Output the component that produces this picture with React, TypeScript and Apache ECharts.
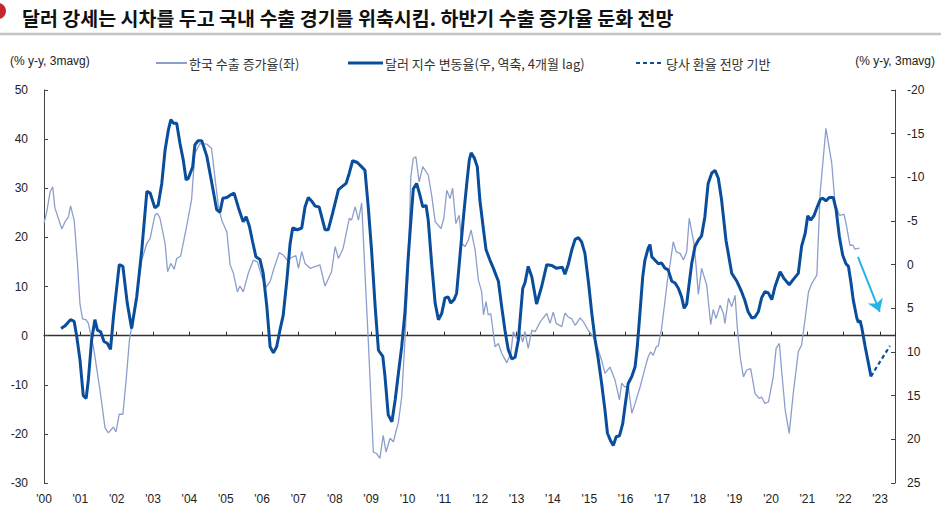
import React, { useEffect, useRef } from "react";
import * as echarts from "echarts";

// Time offsets are in years since January 2000
const YEAR0 = 2000;

// 한국 수출 증가율 (좌, % y-y, 3mavg)
const koreaExports: [number, number][] = [
  [0.0, 22.9], [0.07, 25], [0.17, 29.3], [0.24, 30.3], [0.3, 26], [0.49, 21.7], [0.58, 23.2], [0.67, 24.1],
  [0.73, 26.4], [0.83, 23.5], [0.92, 14.8], [0.99, 6.4], [1.06, 3.4], [1.16, 3.2], [1.22, 2.5], [1.36, -2.3],
  [1.54, -11.1], [1.68, -18.8], [1.77, -19.8], [1.91, -18.6], [1.98, -19.6], [2.07, -16], [2.17, -16], [2.26, -9],
  [2.35, -0.9], [2.55, 7.9], [2.69, 15.4], [2.83, 18.8], [2.92, 19.8], [3.05, 24.5], [3.12, 24.9], [3.19, 23.9],
  [3.33, 18.8], [3.4, 13], [3.49, 14.7], [3.58, 13.5], [3.65, 15.7], [3.76, 16.2], [3.93, 22.5], [4.06, 27.7],
  [4.15, 37.1], [4.29, 39.1], [4.48, 39], [4.61, 38.1], [4.7, 32.3], [4.8, 26.2], [4.89, 23.5], [5.03, 21.1],
  [5.12, 14.4], [5.21, 12.7], [5.32, 8.9], [5.39, 10.1], [5.48, 8.9], [5.62, 12.7], [5.76, 15.4], [5.87, 15],
  [5.99, 12], [6.11, 9.9], [6.22, 11], [6.31, 13.3], [6.47, 16.9], [6.58, 16.4], [6.69, 15.4], [6.84, 16],
  [6.93, 16.3], [7.0, 13.7], [7.09, 17.1], [7.18, 14.7], [7.32, 13.7], [7.59, 14.4], [7.73, 10.1], [7.91, 13],
  [8.01, 18.1], [8.1, 15.7], [8.23, 17.8], [8.4, 23.9], [8.46, 23.5], [8.56, 26.2], [8.65, 23.5], [8.74, 27],
  [8.83, 12.7], [8.92, -0.9], [9.06, -23.7], [9.15, -24], [9.24, -25], [9.33, -20.3], [9.41, -23.7], [9.52, -20.9],
  [9.61, -21.6], [9.75, -17.6], [9.84, -12.5], [9.93, -0.9], [10.02, 14], [10.09, 32.3], [10.16, 36.1], [10.23, 36.4],
  [10.32, 31.3], [10.42, 34.4], [10.57, 32.7], [10.67, 28.3], [10.76, 23.2], [10.92, 21.8], [11.0, 23.9], [11.08, 29.6],
  [11.17, 27.9], [11.24, 30], [11.33, 22.8], [11.42, 24.5], [11.49, 18.8], [11.58, 18.1], [11.67, 19.4], [11.75, 21.5],
  [11.86, 17.4], [11.95, 11.3], [12.04, 8.9], [12.09, 4.2], [12.16, 6.9], [12.22, 4.2], [12.29, 4.5], [12.41, -2.3],
  [12.5, -1.6], [12.59, -3.6], [12.73, -5.5], [12.84, -3.6], [12.91, 0.8], [13.0, -0.6], [13.08, 0.8], [13.17, -1.3],
  [13.23, 0.8], [13.32, -2.6], [13.42, 1.1], [13.51, 0.8], [13.65, 2.8], [13.83, 4.5], [13.92, 2.5], [14.01, 4.8],
  [14.09, 2.5], [14.24, 1.8], [14.33, 4.6], [14.42, 3.8], [14.52, 3.4], [14.61, 2.1], [14.75, 3.6], [14.84, 2.8],
  [14.97, 1.1], [15.11, -0.2], [15.25, -3], [15.34, -5], [15.43, -7.7], [15.57, -6.4], [15.71, -9.1], [15.83, -13.1],
  [15.89, -9.7], [15.98, -10.5], [16.07, -10.1], [16.17, -15.8], [16.26, -13.8], [16.4, -10.4], [16.53, -6.7], [16.62, -4.3],
  [16.69, -3.3], [16.76, -4], [16.84, -2.3], [16.9, -2.1], [16.99, 1.5], [17.08, 6.9], [17.15, 11.3], [17.22, 14.4],
  [17.31, 19.1], [17.39, 17.1], [17.5, 16.7], [17.59, 15.4], [17.68, 17.1], [17.75, 23.9], [17.82, 21.1], [17.88, 18.8],
  [17.94, 14], [18.0, 8.4], [18.09, 13.7], [18.23, 10.3], [18.34, 2.3], [18.41, 5.3], [18.49, 3.5], [18.6, 6.2],
  [18.69, 4.5], [18.73, 2.5], [18.83, 7.6], [18.92, 5.9], [19.01, 8.2], [19.07, 1.8], [19.15, -4.3], [19.24, -8.4],
  [19.33, -7], [19.44, -6.7], [19.56, -11.8], [19.68, -12.8], [19.74, -12.5], [19.83, -13.8], [19.93, -13.5], [20.06, -8.4],
  [20.14, -2.6], [20.23, -1.6], [20.29, -7], [20.39, -15.2], [20.5, -19.9], [20.61, -11.8], [20.75, -3.3], [20.84, -1.9],
  [20.94, 3.5], [21.03, 8.9], [21.12, 10.6], [21.26, 12.3], [21.35, 29], [21.44, 36.4], [21.51, 42.2], [21.58, 39.1],
  [21.67, 35.1], [21.76, 26.9], [21.88, 24.5], [22.01, 24.7], [22.08, 22.2], [22.17, 18.4], [22.25, 18.4], [22.31, 17.6],
  [22.43, 17.8],
];

// 달러 지수 변동율 (우, 역축, 4개월 lag)
const dollarIndex: [number, number][] = [
  [0.47, 7.3], [0.58, 7.0], [0.73, 6.3], [0.83, 6.5], [0.9, 8.2], [0.99, 10.9], [1.08, 15.0], [1.16, 15.3],
  [1.22, 13.2], [1.31, 8.6], [1.4, 6.3], [1.47, 7.5], [1.56, 7.7], [1.65, 8.8], [1.74, 9.0], [1.83, 9.7],
  [1.91, 6.0], [2.07, 0.0], [2.17, 0.2], [2.29, 4.4], [2.41, 7.3], [2.55, 3.7], [2.69, -1.7], [2.83, -8.4],
  [2.92, -8.2], [3.05, -6.5], [3.14, -6.8], [3.24, -9.3], [3.33, -13.1], [3.42, -15.4], [3.49, -16.6], [3.56, -16.2],
  [3.65, -16.2], [3.74, -13.9], [3.83, -12.0], [3.91, -9.7], [3.97, -9.9], [4.09, -11.2], [4.15, -13.7], [4.24, -14.2],
  [4.34, -14.2], [4.48, -12.4], [4.61, -9.5], [4.75, -6.3], [4.84, -6.0], [4.92, -7.6], [5.03, -7.7], [5.14, -8.0],
  [5.23, -8.2], [5.35, -6.5], [5.48, -4.9], [5.56, -5.5], [5.65, -4.4], [5.74, -2.6], [5.83, -0.9], [5.94, -0.6],
  [6.03, 1.0], [6.13, 4.8], [6.22, 9.4], [6.31, 10.1], [6.4, 9.4], [6.49, 7.5], [6.58, 5.8], [6.68, 1.8],
  [6.77, -2.4], [6.84, -4.2], [6.97, -4.0], [7.09, -4.2], [7.18, -6.6], [7.27, -7.7], [7.36, -7.3], [7.46, -6.7],
  [7.57, -6.6], [7.73, -4.0], [7.82, -4.0], [7.94, -5.9], [8.1, -8.6], [8.19, -8.9], [8.31, -9.3], [8.4, -10.5],
  [8.49, -11.9], [8.62, -11.7], [8.74, -11.2], [8.83, -10.8], [8.92, -6.6], [9.01, -1.7], [9.11, 4.8], [9.2, 9.8],
  [9.32, 10.5], [9.38, 12.8], [9.47, 17.2], [9.57, 18.0], [9.66, 15.5], [9.75, 12.4], [9.84, 9.4], [9.93, 5.4],
  [10.02, -0.9], [10.12, -6.6], [10.16, -8.7], [10.25, -9.3], [10.34, -8.0], [10.42, -6.6], [10.51, -6.8], [10.57, -5.1],
  [10.67, 0.2], [10.76, 4.4], [10.85, 6.3], [10.94, 5.6], [11.03, 3.8], [11.12, 3.7], [11.19, 4.4], [11.28, 4.0],
  [11.35, 3.3], [11.44, -0.9], [11.54, -5.5], [11.63, -9.3], [11.7, -12.0], [11.75, -12.8], [11.84, -12.2], [11.92, -11.2],
  [11.99, -7.4], [12.09, -4.0], [12.16, -1.7], [12.27, -0.5], [12.36, 0.4], [12.5, 1.9], [12.59, 4.8], [12.68, 7.5],
  [12.77, 9.7], [12.87, 10.8], [12.96, 10.6], [13.05, 8.6], [13.17, 2.7], [13.23, 2.1], [13.32, 0.2], [13.42, 1.4],
  [13.55, 4.5], [13.69, 2.5], [13.83, 0.0], [13.97, 0.1], [14.09, 0.4], [14.26, 0.3], [14.33, 1.1], [14.42, 0.0],
  [14.52, -1.7], [14.61, -2.9], [14.7, -3.1], [14.79, -2.6], [14.88, -1.3], [14.98, 2.1], [15.07, 5.6], [15.16, 8.6],
  [15.25, 10.9], [15.34, 13.6], [15.43, 16.6], [15.5, 19.3], [15.59, 20.2], [15.66, 20.7], [15.74, 19.7], [15.83, 19.6],
  [15.92, 18.2], [15.98, 16.3], [16.07, 13.6], [16.17, 12.8], [16.26, 11.7], [16.32, 9.4], [16.4, 5.2], [16.47, 1.4],
  [16.53, -0.5], [16.62, -1.9], [16.67, -2.3], [16.72, -0.9], [16.81, -0.5], [16.9, -0.1], [16.99, -0.2], [17.08, 0.4],
  [17.17, 0.6], [17.27, 1.9], [17.36, 2.1], [17.45, 2.7], [17.54, 3.7], [17.61, 5.0], [17.68, 4.5], [17.75, 2.1],
  [17.82, -0.2], [17.91, -2.1], [18.0, -2.8], [18.09, -3.3], [18.18, -5.5], [18.27, -9.3], [18.37, -10.5], [18.46, -10.8],
  [18.55, -9.9], [18.64, -7.4], [18.76, -2.8], [18.92, 1.0], [19.06, 1.9], [19.19, 3.1], [19.28, 4.1], [19.37, 5.4],
  [19.47, 6.1], [19.56, 6.0], [19.65, 5.4], [19.74, 3.8], [19.83, 3.1], [19.92, 3.2], [20.02, 4.0], [20.11, 2.5],
  [20.25, 0.8], [20.36, 1.6], [20.5, 2.3], [20.63, 1.6], [20.75, 1.0], [20.84, -2.1], [20.94, -3.6], [21.01, -5.6],
  [21.09, -5.1], [21.18, -5.6], [21.27, -6.6], [21.36, -7.5], [21.43, -7.6], [21.51, -7.3], [21.6, -7.7], [21.71, -7.7],
  [21.79, -6.3], [21.88, -3.2], [21.97, -1.1], [22.06, -0.1], [22.13, 0.2], [22.2, 2.1], [22.26, 4.0], [22.36, 6.1],
  [22.4, 6.6], [22.45, 6.4], [22.5, 7.3], [22.59, 9.4], [22.68, 11.3], [22.75, 12.8],
];

// 당사 환율 전망 기반 (우, 역축)
const dollarForecast: [number, number][] = [
  [22.75, 12.8], [22.91, 11.7], [23.09, 10.5], [23.27, 9.3],
];

// Arrow annotation (right axis units)
const arrowFrom: [number, number] = [22.39, -0.9];
const arrowTo: [number, number] = [22.99, 5.4];

const LEFT_MIN = -30, LEFT_MAX = 50, LEFT_STEP = 10;
const RIGHT_MIN = -20, RIGHT_MAX = 25, RIGHT_STEP = 5;
const X_MIN = 2000, X_MAX = 2023.41;

const TITLE = "달러 강세는 시차를 두고 국내 수출 경기를 위축시킴. 하반기 수출 증가율 둔화 전망";
const UNIT = "(% y-y, 3mavg)";
const LEGEND = ["한국 수출 증가율(좌)", "달러 지수 변동율(우, 역축, 4개월 lag)", "당사 환율 전망 기반"];

const toXY = (arr: [number, number][]) => arr.map(([t, v]) => [YEAR0 + t, v]);

const LATIN = "'Liberation Sans', Arial, sans-serif";
const KR = "'Noto Sans CJK KR', 'Noto Sans', sans-serif";
const THIN = "#8c9ecc";
const DARK = "#0a4e9b";

export default function App() {
  const ref = useRef<HTMLDivElement>(null);
  useEffect(() => {
    if (!ref.current) return;
    const chart = echarts.init(ref.current, undefined, { renderer: "svg" });
    const labelStyle = { color: "#222", fontSize: 12, fontFamily: LATIN };
    const legendY = 63;
    const option: any = {
      animation: false,
      backgroundColor: "#fff",
      grid: { left: 44, right: 46, top: 90, bottom: 37, containLabel: false },
      xAxis: [
        {
          type: "value", min: X_MIN, max: X_MAX, interval: 1, position: "bottom",
          axisLine: { show: false }, axisTick: { show: false }, splitLine: { show: false },
          axisLabel: {
            ...labelStyle, margin: 10,
            formatter: (v: number) => Number.isInteger(v) ? "'" + String(v % 100).padStart(2, "0") : "",
          },
        },
        {
          type: "value", min: X_MIN, max: X_MAX, interval: 1, position: "bottom",
          axisLine: { show: true, onZero: true, onZeroAxisIndex: 0, lineStyle: { color: "#333", width: 1.3 } },
          axisTick: { show: true, inside: true, length: 4, lineStyle: { color: "#333" } },
          axisLabel: { show: false }, splitLine: { show: false },
        },
      ],
      yAxis: [
        {
          type: "value", min: LEFT_MIN, max: LEFT_MAX, interval: LEFT_STEP, position: "left",
          axisLine: { show: true, lineStyle: { color: "#444" } },
          axisTick: { show: true, inside: true, length: 4, lineStyle: { color: "#444" } },
          splitLine: { show: false }, axisLabel: { ...labelStyle, margin: 16 },
        },
        {
          type: "value", min: RIGHT_MIN, max: RIGHT_MAX, interval: RIGHT_STEP, inverse: true, position: "right",
          axisLine: { show: true, lineStyle: { color: "#444" } },
          axisTick: { show: true, inside: true, length: 4, lineStyle: { color: "#444" } },
          splitLine: { show: false }, axisLabel: { ...labelStyle, margin: 12 },
        },
      ],
      series: [
        {
          name: LEGEND[0], type: "line", xAxisIndex: 0, yAxisIndex: 0, data: toXY(koreaExports),
          symbol: "none", lineStyle: { color: THIN, width: 1.3 }, z: 2, silent: true,
        },
        {
          name: LEGEND[1], type: "line", xAxisIndex: 0, yAxisIndex: 1, data: toXY(dollarIndex),
          symbol: "none", lineStyle: { color: DARK, width: 3 }, z: 3, silent: true,
          markLine: {
            silent: true, symbol: ["none", "arrow"], symbolSize: 12, label: { show: false },
            lineStyle: { color: "#26b3e6", width: 2, type: "solid" },
            emphasis: { disabled: true },
            data: [[{ coord: [YEAR0 + arrowFrom[0], arrowFrom[1]] }, { coord: [YEAR0 + arrowTo[0], arrowTo[1]] }]],
          },
        },
        {
          name: LEGEND[2], type: "line", xAxisIndex: 0, yAxisIndex: 1, data: toXY(dollarForecast),
          symbol: "none", lineStyle: { color: DARK, width: 2.2, type: [4, 3] }, z: 3, silent: true,
        },
      ],
      graphic: [
        { type: "circle", shape: { cx: -2, cy: 11, r: 8 }, style: { fill: "#c3272d" } },
        {
          type: "text", x: 22, y: 17,
          style: { text: TITLE, fill: "#111", font: `bold 19.5px ${KR}`, verticalAlign: "middle", align: "left" },
        },
        { type: "line", shape: { x1: 0, y1: 34, x2: 941, y2: 34 }, style: { stroke: "#c4c4c4", lineWidth: 2.5 } },
        {
          type: "text", x: 10, y: 61,
          style: { text: UNIT, fill: "#222", font: `12px ${LATIN}`, verticalAlign: "middle", align: "left" },
        },
        {
          type: "text", x: 935, y: 61,
          style: { text: UNIT, fill: "#222", font: `12px ${LATIN}`, verticalAlign: "middle", align: "right" },
        },
        { type: "line", shape: { x1: 156, y1: legendY, x2: 187, y2: legendY }, style: { stroke: THIN, lineWidth: 2 } },
        {
          type: "text", x: 189, y: legendY,
          style: { text: LEGEND[0], fill: "#333", font: `13px ${KR}`, verticalAlign: "middle", align: "left" },
        },
        { type: "line", shape: { x1: 348, y1: legendY, x2: 383, y2: legendY }, style: { stroke: DARK, lineWidth: 3 } },
        {
          type: "text", x: 385, y: legendY,
          style: { text: LEGEND[1], fill: "#333", font: `13px ${KR}`, verticalAlign: "middle", align: "left" },
        },
        {
          type: "line", shape: { x1: 636, y1: legendY, x2: 664, y2: legendY },
          style: { stroke: DARK, lineWidth: 2, lineDash: [4, 3] },
        },
        {
          type: "text", x: 666, y: legendY,
          style: { text: LEGEND[2], fill: "#333", font: `13px ${KR}`, verticalAlign: "middle", align: "left" },
        },
      ],
    };
    chart.setOption(option);
    return () => chart.dispose();
  }, []);
  return <div ref={ref} style={{ width: 941, height: 520, position: "absolute", left: 0, top: 0 }} />;
}
